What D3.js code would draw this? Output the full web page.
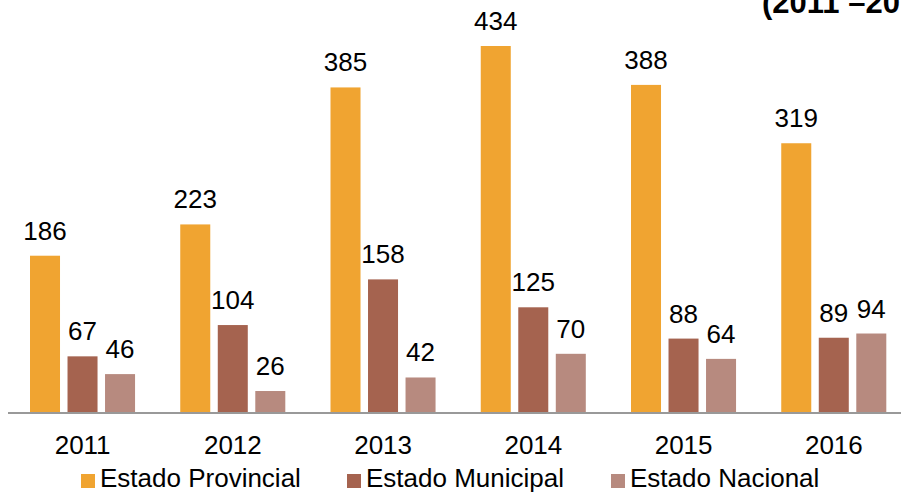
<!DOCTYPE html>
<html>
<head>
<meta charset="utf-8">
<script src="https://cdn.jsdelivr.net/npm/d3@7"></script>
<style>
  html, body { margin: 0; padding: 0; background: #ffffff; overflow: hidden; }
  svg { display: block; font-family: "Liberation Sans", Arial, sans-serif; }
</style>
</head>
<body>
<svg id="chart" width="901" height="493"></svg>
<script>
// Years on the category axis
const years = ["2011", "2012", "2013", "2014", "2015", "2016"];
// Series names (legend order)
const seriesNames = ["Estado Provincial", "Estado Municipal", "Estado Nacional"];
// Values per series, one per year
const provincial = [186, 223, 385, 434, 388, 319];
const municipal  = [67, 104, 158, 125, 88, 89];
const nacional   = [46, 26, 42, 70, 64, 94];
const seriesColors = ["#F0A431", "#A5634F", "#B78A7F"];
const titleText = "(2011 \u20132016)";

const seriesValues = [provincial, municipal, nacional];

const svg = d3.select("#chart");
const baseY = 413;

// Outer band per year; the last group runs slightly past the right edge
const x0 = d3.scaleBand().domain(years).range([7.5, 909]).paddingInner(0).paddingOuter(0);
// Inner band per series inside each year group
const x1 = d3.scaleBand().domain(seriesNames)
  .range([22.5, x0.bandwidth() - 22.7]).paddingInner(0.2).paddingOuter(0);
const y = d3.scaleLinear().domain([0, 434]).range([baseY, 46]);

// Title in the top-right corner, running off the page edge
svg.append("text")
  .attr("x", 762).attr("y", 13)
  .attr("font-size", 31).attr("font-weight", "bold").attr("fill", "#000")
  .text(titleText);

// Bars and value labels
const groups = svg.append("g").selectAll("g")
  .data(years)
  .join("g")
  .attr("transform", d => `translate(${x0(d)},0)`);

groups.selectAll("rect")
  .data((d, i) => seriesNames.map((s, k) => ({ s, k, v: seriesValues[k][i] })))
  .join("rect")
  .attr("x", d => x1(d.s))
  .attr("width", x1.bandwidth())
  .attr("y", d => y(d.v))
  .attr("height", d => baseY - y(d.v))
  .attr("fill", d => seriesColors[d.k]);

groups.selectAll("text.val")
  .data((d, i) => seriesNames.map((s, k) => ({ s, k, v: seriesValues[k][i] })))
  .join("text")
  .attr("class", "val")
  .attr("x", d => x1(d.s) + x1.bandwidth() / 2)
  .attr("y", d => y(d.v) - 16)
  .attr("text-anchor", "middle")
  .attr("font-size", 26)
  .attr("fill", "#000")
  .text(d => d.v);

// Category axis
const axis = svg.append("g")
  .attr("transform", `translate(0,${baseY})`)
  .call(d3.axisBottom(x0).tickSize(0).tickPadding(0));
axis.select(".domain").attr("stroke", "#999999").attr("stroke-width", 2).attr("d", "M8,0H909");
axis.selectAll(".tick text")
  .attr("font-size", 26)
  .attr("font-family", "Liberation Sans, Arial, sans-serif")
  .attr("fill", "#000")
  .attr("dy", null)
  .attr("y", 41);

// Legend
const legend = svg.append("g");
const legendX = [81, 347, 611];
seriesNames.forEach((name, k) => {
  const g = legend.append("g").attr("transform", `translate(${legendX[k]},0)`);
  g.append("rect").attr("x", 0).attr("y", 474).attr("width", 14).attr("height", 14).attr("fill", seriesColors[k]);
  g.append("text").attr("x", 19).attr("y", 487).attr("font-size", 26).attr("fill", "#000").text(name);
});
</script>
</body>
</html>
